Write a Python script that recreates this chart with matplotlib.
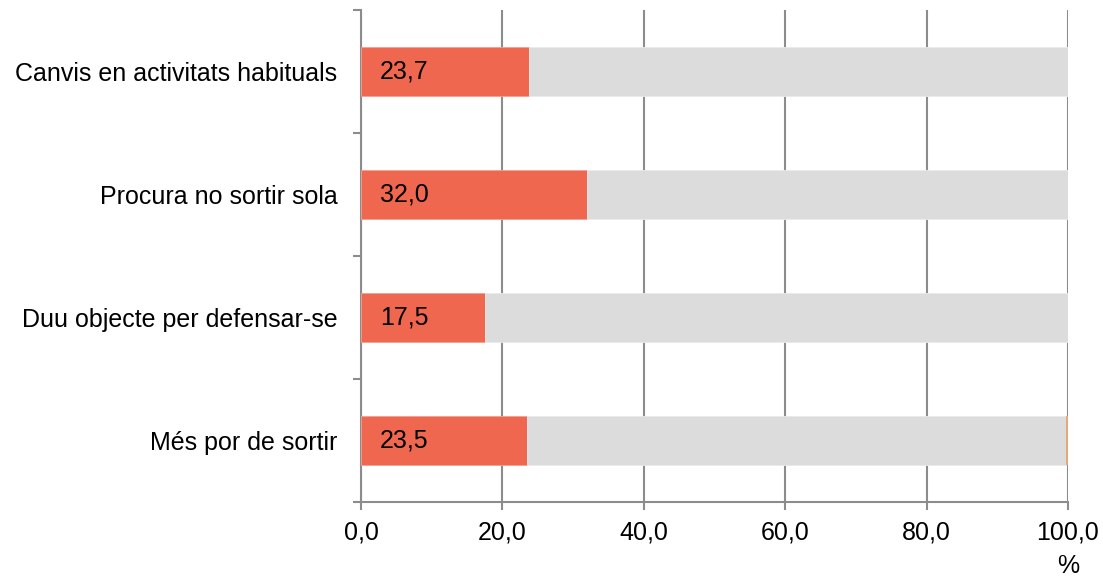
import numpy as np
import matplotlib.pyplot as plt

plt.rcParams['font.family'] = ['Liberation Sans', 'DejaVu Sans']

categories = ['Canvis en activitats habituals', 'Procura no sortir sola',
              'Duu objecte per defensar-se', 'Més por de sortir']
si = [23.7, 32.0, 17.5, 23.5]
no = [76.3, 68.0, 82.5, 76.2]
nsnc = [0.0, 0.0, 0.0, 0.3]
ticks = [0, 20, 40, 60, 80, 100]

fig = plt.figure(figsize=(11.03, 5.78), dpi=100)
ax = fig.add_axes([361 / 1103, 76 / 578, 707 / 1103, 492 / 578])

y = np.arange(len(categories))[::-1]
ax.barh(y, si, height=0.4, color='#F0674F', edgecolor='#F4A090', linewidth=0.6, zorder=3)
ax.barh(y, no, left=si, height=0.4, color='#DCDCDC', edgecolor='#EAEAEA', linewidth=0.6, zorder=3)
ax.barh(y, nsnc, left=np.array(si) + np.array(no), height=0.4, color='#E8A878', linewidth=0, zorder=3)

for yi, v in zip(y, si):
    ax.text(2.7, yi, f'{v:.1f}'.replace('.', ','), va='center', ha='left', fontsize=18, zorder=4)

ax.set_xlim(0, 100)
ax.set_ylim(-0.5, 3.5)
ax.set_xticks(ticks)
ax.set_xticklabels([f'{t:.1f}'.replace('.', ',') for t in ticks], fontsize=18)
ax.set_yticks(y)
ax.set_yticklabels(categories, fontsize=18)
ax.tick_params(axis='y', length=0, pad=17)
ax.set_yticks(np.arange(-0.5, 4, 1), minor=True)
ax.tick_params(axis='y', which='minor', length=6, color='#8C8C8C', width=1.5)
ax.tick_params(axis='x', length=6, color='#8C8C8C', width=1.5, pad=7)
ax.grid(axis='x', color='#8C8C8C', linewidth=1.5, zorder=0)

for s in ['top', 'right']:
    ax.spines[s].set_visible(False)
for s in ['left', 'bottom']:
    ax.spines[s].set_color('#8C8C8C')
    ax.spines[s].set_linewidth(1.5)

fig.text(1068 / 1103, 1 - 566 / 578, '%', ha='center', va='center', fontsize=18)

fig.savefig('out.png', dpi=100)
